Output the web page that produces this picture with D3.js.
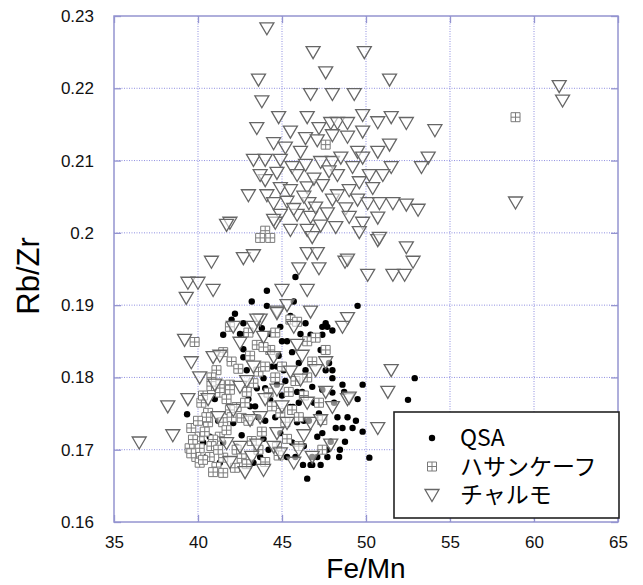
<!DOCTYPE html>
<html>
<head>
<meta charset="utf-8">
<script src="https://cdn.jsdelivr.net/npm/d3@7"></script>
<style>
  body { margin: 0; background: #fff; }
  svg { display: block; }
</style>
</head>
<body>
<script>
// axis ticks
var xTicks = [35, 40, 45, 50, 55, 60, 65];
var yTicks = [0.16, 0.17, 0.18, 0.19, 0.2, 0.21, 0.22, 0.23];
var yTickLabels = ["0.16", "0.17", "0.18", "0.19", "0.2", "0.21", "0.22", "0.23"];

var seriesNames = ["QSA", "ハサンケーフ", "チャルモ"];

// QSA  [Fe/Mn, Rb/Zr]
var qsa = [
  [39.35,.1749],[45.8,.1939],[44.1,.1920],[44.1,.1899],[42.2,.1888],[42.0,.1880],[41.5,.1859],[43.8,.1868],
  [43.75,.1841],[42.7,.1839],[49.5,.1899],[47.4,.1870],[47.4,.1859],[46.7,.1859],[52.9,.1799],[52.5,.1769],
  [49.8,.1790],[49.5,.1770],[50.2,.1689],[46.5,.1660],[48.6,.1790],[48.0,.1779],[49.2,.1730],[48.6,.1730],
  [48.2,.1730],[48.75,.1711],[48.45,.1700],[47.9,.1711],[47.7,.1700],[47.7,.1690],[47.1,.1690],[46.8,.1690],
  [47.3,.1679],[46.8,.1679],[46.25,.1679],[47.4,.1723],[47.6,.1810],[48.0,.1810],[48.0,.1799],[48.0,.1865],
  [47.6,.1875],[45.65,.1759],[44.7,.1790],[43.9,.1799],[42.9,.1810],[41.1,.1810],[40.7,.1718],[40.5,.1690],
  [45.3,.1690],[46.7,.1679],[45.9,.1738],[47.3,.1838],[42.1,.1737],[43.3,.1682],[42.7,.1828],[41.9,.1824],
  [45.1,.1810],[44.3,.1769],[46.8,.1787],[47.4,.1783],[47.7,.1870],[46.7,.1852],[46.1,.1860],[45.5,.1759],
  [44.9,.1723],[43.7,.1690],[42.3,.1704],[41.3,.1682],[47.1,.1718],[43.1,.1760],[43.4,.1760],[45.9,.1780],
  [46.2,.1780],[44.4,.1815],[44.7,.1815],[46.3,.1740],[46.6,.1740],[42.5,.1860],[42.8,.1860],[45.0,.1850],
  [45.3,.1850],[41.0,.1770],[44.0,.1740],[46.9,.1765],[48.3,.1745],[48.7,.1780],[47.8,.1820],[42.7,.1875],
  [44.9,.1870],[45.7,.1905],[43.2,.1905],[41.2,.1740],[40.3,.1710],[44.2,.1700],[45.6,.1710],[46.0,.1820],
  [43.5,.1785],[42.0,.1790],[44.8,.1830],[45.6,.1835],[46.4,.1810],[44.0,.1785],[45.2,.1795],[43.0,.1770],
  [43.6,.1745],[44.6,.1745],[45.0,.1775],[46.0,.1765],[47.2,.1750],[48.1,.1765],[48.9,.1745],[49.4,.1740],
  [49.8,.1725],[48.4,.1690],[45.8,.1690],[46.3,.1705],[42.6,.1720],[41.5,.1710],[43.9,.1715],[44.3,.1860],
  [45.5,.1885],[46.4,.1875]
];

// ハサンケーフ
var hasankeyf = [
  [58.9,.2160],[47.6,.2122],[44.0,.2003],[43.7,.1993],[44.3,.1993],[39.8,.1849],[47.6,.1838],[47.4,.1741],
  [47.4,.1700],[41.3,.1790],[41.9,.1790],[40.6,.1751],[40.6,.1738],[41.5,.1738],[40.1,.1718],[39.5,.1702],
  [40.1,.1702],[39.9,.1690],[40.7,.1690],[40.1,.1682],[41.1,.1676],[41.5,.1668],[41.9,.1783],[42.3,.1759],
  [42.6,.1744],[41.9,.1755],[43.3,.1792],[44.2,.1779],[41.3,.1779],[44.9,.1751],[44.7,.1704],[41.3,.1718],
  [40.9,.1714],[42.3,.1700],[41.5,.1689],[40.3,.1686],[40.5,.1745],[39.7,.1714],[40.9,.1669],[41.1,.1810],
  [43.0,.1862],[44.3,.1838],[45.5,.1880],[45.9,.1877],[41.9,.1870],[43.5,.1845],[45.0,.1815],[45.8,.1795],
  [46.3,.1775],[43.8,.1725],[44.8,.1692],[46.0,.1705],[42.6,.1688],[43.2,.1712],[45.6,.1755],[46.8,.1822],
  [42.0,.1822],[43.6,.1808],[46.5,.1850],[47.2,.1765],[45.2,.1738],[41.5,.1835],[42.8,.1765],[43.9,.1842],
  [40.2,.1765],[40.8,.1800],[39.6,.1730],[42.2,.1675],[43.0,.1740],[44.4,.1760],[40.4,.1725],[42.9,.1780],
  [40.0,.1740],[40.3,.1775],[39.6,.1695],[40.8,.1705],[41.2,.1700],[41.7,.1727],[42.0,.1745],[41.7,.1770],
  [40.8,.1788],[42.4,.1812],[43.1,.1830],[44.0,.1815],[44.6,.1800],[45.4,.1780],[46.0,.1745],[43.6,.1700],
  [42.9,.1680],[44.0,.1683],[45.3,.1715],[46.5,.1800],[47.0,.1855],[44.6,.1862]
];

// チャルモ
var chalmo = [
  [44.1,.2283],[46.85,.2250],[49.9,.2250],[47.6,.2222],[51.4,.2212],[43.6,.2212],[43.8,.2182],[46.7,.2192],
  [48.0,.2192],[49.3,.2192],[61.5,.2203],[61.7,.2183],[58.9,.2042],[54.1,.2142],
  [44.8,.2160],[46.5,.2160],[45.5,.2140],[47.9,.2152],[44.5,.2124],[46.4,.2131],[47.1,.2128],[48.0,.2135],
  [43.3,.2101],[44.0,.2101],[44.9,.2101],[45.6,.2091],[46.4,.2094],[47.3,.2098],[48.0,.2098],[44.0,.2073],
  [44.7,.2083],[43.0,.2052],[44.1,.2052],[44.9,.2062],[45.5,.2059],[46.5,.2063],[47.4,.2066],[44.5,.2041],
  [45.3,.2043],[46.6,.2041],[48.0,.2046],[44.9,.2025],[45.9,.2025],[46.7,.2022],[47.7,.2027],[41.9,.2014],
  [44.6,.2014],[49.8,.2163],[51.5,.2160],[50.7,.2153],[52.4,.2152],[48.3,.2152],[48.9,.2152],[49.8,.2140],
  [48.9,.2133],[51.4,.2122],[50.7,.2112],[49.5,.2112],[48.5,.2104],[49.8,.2104],[53.7,.2104],[53.3,.2091],
  [51.5,.2091],[49.2,.2091],[50.2,.2080],[51.0,.2080],[48.3,.2080],[49.6,.2070],[50.4,.2062],[49.0,.2059],
  [48.3,.2052],[50.1,.2041],[50.8,.2041],[51.6,.2041],[52.4,.2039],[53.1,.2032],[48.8,.2034],[49.5,.2046],
  [50.7,.2021],[49.0,.2022],[49.8,.2014],[44.5,.2018],[45.5,.2004],[46.5,.2004],[46.8,.1994],[47.3,.2010],
  [48.2,.2008],[45.9,.2080],[46.9,.2075],[47.8,.2085],[46.1,.2112],[45.2,.2118],[43.7,.2080],[43.5,.2145],
  [47.2,.2145],[46.3,.2050],[47.0,.2035],[45.7,.2033],
  [46.0,.1951],[47.2,.1951],[46.5,.1972],[47.1,.1972],[46.5,.1921],[48.75,.1960],[50.7,.1990],[52.4,.1980],
  [52.8,.1960],[50.1,.1942],[51.6,.1942],[52.3,.1942],[49.6,.2001],[50.8,.1993],[48.9,.1963],[40.8,.1960],
  [42.7,.1965],[43.3,.1969],[41.7,.2011],[39.4,.1931],[40.0,.1931],[40.9,.1921],[39.3,.1910],[45.0,.1921],
  [45.3,.1900],[44.7,.1891],[43.7,.1880],[46.7,.1891],[48.9,.1882],[48.6,.1870],
  [36.5,.1710],[38.5,.1720],[38.2,.1760],[39.4,.1770],[40.6,.1770],[39.2,.1852],[39.6,.1821],[51.5,.1810],
  [51.3,.1780],[50.7,.1730],[48.9,.1770],[42.1,.1870],[43.3,.1870],[40.9,.1828],[40.1,.1800],[41.3,.1830],
  [42.5,.1787],[43.3,.1815],[44.5,.1828],[45.5,.1808],[44.7,.1783],[46.1,.1797],[43.7,.1745],[42.1,.1755],
  [43.1,.1741],[45.3,.1737],[46.7,.1737],[41.7,.1709],[42.5,.1704],[43.5,.1707],[44.5,.1704],[41.9,.1683],
  [42.8,.1669],[43.9,.1672],[45.7,.1682],[46.8,.1690],[46.3,.1720],[44.7,.1723],[42.5,.1848],[43.9,.1856],
  [43.5,.1880],[44.7,.1889],[47.6,.1821],[49.0,.1772],[48.0,.1759],[47.6,.1780],[47.3,.1741],[47.9,.1707],
  [45.0,.1760],[44.0,.1770],[42.9,.1795],[46.5,.1765],[45.9,.1845],[47.0,.1810],[41.2,.1745],[44.9,.1695],
  [46.0,.1700],[43.2,.1690],[45.7,.1870],[46.2,.1830],[41.0,.1790]
];

var margin = { top: 16, right: 25, bottom: 63, left: 114 },
    width = 643 - margin.left - margin.right,
    height = 585 - margin.top - margin.bottom;

var x = d3.scaleLinear().domain([35, 65]).range([0, width]);
var y = d3.scaleLinear().domain([0.16, 0.23]).range([height, 0]);

var frameColor = "#9494d0",
    gridColor = "#8f8fe0",
    font = "'Liberation Sans', Arial, sans-serif";

var svg = d3.select("body").append("svg")
    .attr("width", 643)
    .attr("height", 585)
    .append("g")
    .attr("transform", "translate(" + margin.left + "," + margin.top + ")");

// dotted grid
svg.append("g").selectAll("line.gx")
    .data(xTicks.slice(1, -1))
    .enter().append("line")
    .attr("x1", d => x(d)).attr("x2", d => x(d))
    .attr("y1", 0).attr("y2", height)
    .attr("stroke", gridColor).attr("stroke-width", 1)
    .attr("stroke-dasharray", "1,1.5");

svg.append("g").selectAll("line.gy")
    .data(yTicks.slice(1, -1))
    .enter().append("line")
    .attr("x1", 0).attr("x2", width)
    .attr("y1", d => y(d)).attr("y2", d => y(d))
    .attr("stroke", gridColor).attr("stroke-width", 1)
    .attr("stroke-dasharray", "1,1.5");

// axes: inward ticks on all four sides, labels on left / bottom
function styleAxis(g) {
    g.select(".domain").remove();
    g.selectAll(".tick line").attr("stroke", frameColor).attr("stroke-width", 1.3);
    g.selectAll(".tick text").attr("fill", "#111").style("font-family", font).style("font-size", "17px");
}

svg.append("g")
    .attr("transform", "translate(0," + height + ")")
    .call(d3.axisBottom(x).tickValues(xTicks).tickSize(-7).tickPadding(14))
    .call(styleAxis);

svg.append("g")
    .call(d3.axisTop(x).tickValues(xTicks).tickSize(-7).tickFormat(""))
    .call(styleAxis);

svg.append("g")
    .call(d3.axisLeft(y).tickValues(yTicks).tickSize(-7).tickPadding(20)
        .tickFormat((d, i) => yTickLabels[i]))
    .call(styleAxis);

svg.append("g")
    .attr("transform", "translate(" + width + ",0)")
    .call(d3.axisRight(y).tickValues(yTicks).tickSize(-7).tickFormat(""))
    .call(styleAxis);

svg.append("rect")
    .attr("width", width).attr("height", height)
    .attr("fill", "none").attr("stroke", frameColor).attr("stroke-width", 1.5);

// markers
var triPath = "M-7,-5.5L7,-5.5L0,6.5Z";
var sqPath = "M-4.5,-4.5H4.5V4.5H-4.5ZM0,-4.5V4.5M-4.5,0H4.5";

var plot = svg.append("g");

plot.selectAll("circle.qsa")
    .data(qsa)
    .enter().append("circle")
    .attr("cx", d => x(d[0]))
    .attr("cy", d => y(d[1]))
    .attr("r", 3.2)
    .attr("fill", "#000");

plot.selectAll("path.hk")
    .data(hasankeyf)
    .enter().append("path")
    .attr("d", sqPath)
    .attr("transform", d => "translate(" + x(d[0]) + "," + y(d[1]) + ")")
    .attr("fill", "#fff")
    .attr("stroke", "#7a7a7a")
    .attr("stroke-width", 1);

plot.selectAll("path.ch")
    .data(chalmo)
    .enter().append("path")
    .attr("d", triPath)
    .attr("transform", d => "translate(" + x(d[0]) + "," + y(d[1]) + ")")
    .attr("fill", "#fff")
    .attr("fill-opacity", 0.55)
    .attr("stroke", "#666")
    .attr("stroke-width", 1.3);

// axis titles
svg.append("text")
    .attr("x", x(50))
    .attr("y", height + 56)
    .attr("text-anchor", "middle")
    .style("font-family", font)
    .style("font-size", "28px")
    .text("Fe/Mn");

svg.append("text")
    .attr("transform", "translate(" + (39 - margin.left) + "," + (276 - margin.top) + ") rotate(-90)")
    .attr("text-anchor", "middle")
    .style("font-family", font)
    .style("font-size", "31px")
    .text("Rb/Zr");

// legend
var legend = svg.append("g")
    .attr("transform", "translate(" + (394 - margin.left) + "," + (412 - margin.top) + ")");

legend.append("rect")
    .attr("width", 225).attr("height", 106)
    .attr("fill", "#fff").attr("stroke", "#222").attr("stroke-width", 1.6);

var rows = legend.selectAll("g.row")
    .data(seriesNames)
    .enter().append("g")
    .attr("transform", (d, i) => "translate(38," + (26 + i * 28.5) + ")");

rows.each(function (d, i) {
    var r = d3.select(this);
    if (i === 0) r.append("circle").attr("r", 3.2).attr("fill", "#000");
    if (i === 1) r.append("path").attr("d", sqPath).attr("fill", "#fff").attr("stroke", "#7a7a7a");
    if (i === 2) r.append("path").attr("d", triPath).attr("fill", "#fff").attr("stroke", "#666").attr("stroke-width", 1.3);
});

rows.append("text")
    .attr("x", 28)
    .attr("y", 0)
    .attr("dy", "0.36em")
    .style("font-family", "'Noto Sans CJK JP', 'Noto Sans', sans-serif")
    .style("font-size", "23px")
    .text(d => d);
</script>
</body>
</html>
